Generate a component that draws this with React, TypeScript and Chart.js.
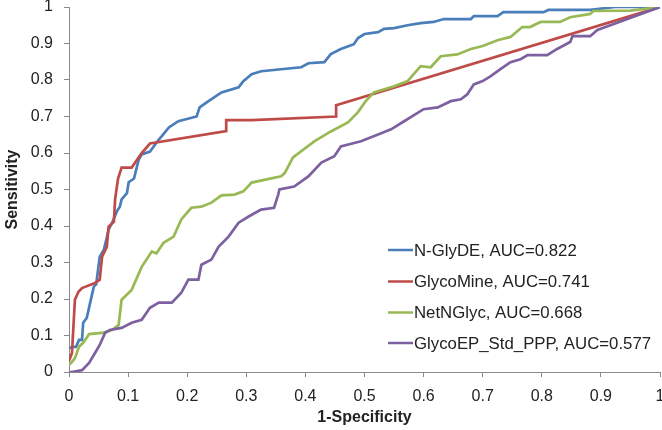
import React, { useEffect, useRef } from "react";
import { Chart, registerables } from "chart.js";

Chart.register(...registerables);

const seriesNames = [
  "N-GlyDE, AUC=0.822",
  "GlycoMine, AUC=0.741",
  "NetNGlyc, AUC=0.668",
  "GlycoEP_Std_PPP, AUC=0.577",
];
const seriesColors = ["#4A7EBB", "#BE4B48", "#98B954", "#7D60A0"];

const glydeX = [0, 0.008, 0.012, 0.017, 0.022, 0.024, 0.03, 0.035, 0.042, 0.046, 0.052, 0.059, 0.067, 0.073, 0.081, 0.086, 0.089, 0.098, 0.101, 0.11, 0.118, 0.123, 0.137, 0.152, 0.157, 0.169, 0.185, 0.216, 0.221, 0.236, 0.258, 0.287, 0.295, 0.309, 0.325, 0.393, 0.405, 0.432, 0.443, 0.46, 0.482, 0.489, 0.5, 0.523, 0.533, 0.55, 0.573, 0.595, 0.617, 0.634, 0.68, 0.685, 0.725, 0.735, 0.803, 0.811, 0.882, 0.924, 1];
const glydeY = [0.065, 0.069, 0.069, 0.088, 0.088, 0.135, 0.148, 0.184, 0.234, 0.24, 0.316, 0.335, 0.39, 0.409, 0.44, 0.453, 0.473, 0.49, 0.52, 0.53, 0.582, 0.596, 0.604, 0.637, 0.646, 0.67, 0.687, 0.7, 0.725, 0.742, 0.766, 0.78, 0.797, 0.816, 0.824, 0.835, 0.846, 0.849, 0.871, 0.885, 0.898, 0.915, 0.926, 0.931, 0.94, 0.942, 0.95, 0.956, 0.959, 0.967, 0.967, 0.975, 0.975, 0.986, 0.986, 0.992, 0.992, 1, 1];

const mineX = [0, 0.005, 0.01, 0.016, 0.022, 0.044, 0.052, 0.056, 0.064, 0.067, 0.076, 0.078, 0.083, 0.089, 0.106, 0.123, 0.137, 0.266, 0.266, 0.309, 0.452, 0.452, 1];
const mineY = [0.03, 0.052, 0.198, 0.22, 0.23, 0.244, 0.253, 0.316, 0.343, 0.398, 0.412, 0.473, 0.53, 0.56, 0.56, 0.6, 0.626, 0.66, 0.69, 0.69, 0.7, 0.731, 1];

const netX = [0, 0.005, 0.01, 0.017, 0.025, 0.034, 0.056, 0.073, 0.084, 0.089, 0.106, 0.123, 0.14, 0.148, 0.16, 0.177, 0.19, 0.207, 0.224, 0.241, 0.258, 0.28, 0.295, 0.309, 0.359, 0.365, 0.379, 0.415, 0.443, 0.472, 0.489, 0.502, 0.516, 0.55, 0.573, 0.595, 0.612, 0.629, 0.657, 0.68, 0.7, 0.725, 0.747, 0.767, 0.78, 0.798, 0.831, 0.848, 0.882, 0.887, 0.95, 1];
const netY = [0.02, 0.027, 0.038, 0.069, 0.082, 0.104, 0.107, 0.115, 0.129, 0.198, 0.225, 0.288, 0.33, 0.325, 0.354, 0.371, 0.418, 0.45, 0.453, 0.464, 0.484, 0.486, 0.495, 0.519, 0.536, 0.545, 0.588, 0.632, 0.659, 0.684, 0.712, 0.742, 0.766, 0.783, 0.797, 0.838, 0.835, 0.865, 0.87, 0.885, 0.893, 0.909, 0.918, 0.945, 0.945, 0.959, 0.959, 0.972, 0.981, 0.989, 0.99, 1];

const epX = [0, 0.005, 0.022, 0.034, 0.044, 0.052, 0.061, 0.069, 0.089, 0.106, 0.123, 0.137, 0.152, 0.174, 0.19, 0.202, 0.219, 0.224, 0.241, 0.253, 0.27, 0.287, 0.304, 0.325, 0.347, 0.354, 0.356, 0.381, 0.405, 0.427, 0.449, 0.46, 0.494, 0.523, 0.545, 0.567, 0.6, 0.624, 0.646, 0.663, 0.674, 0.685, 0.7, 0.713, 0.73, 0.747, 0.764, 0.776, 0.809, 0.826, 0.848, 0.852, 0.882, 0.894, 0.916, 1];
const epY = [0, 0, 0.005, 0.025, 0.052, 0.074, 0.107, 0.115, 0.121, 0.135, 0.143, 0.176, 0.19, 0.19, 0.217, 0.253, 0.253, 0.294, 0.308, 0.343, 0.371, 0.409, 0.426, 0.445, 0.45, 0.486, 0.5, 0.508, 0.536, 0.574, 0.591, 0.618, 0.632, 0.651, 0.665, 0.687, 0.72, 0.725, 0.742, 0.747, 0.761, 0.788, 0.797, 0.81, 0.83, 0.849, 0.857, 0.868, 0.868, 0.885, 0.904, 0.92, 0.92, 0.937, 0.95, 1];

const seriesX = [glydeX, mineX, netX, epX];
const seriesY = [glydeY, mineY, netY, epY];

const FONT = '"Liberation Sans", Arial, sans-serif';

const legendPlugin = {
  id: "insideLegend",
  afterDraw(chart: any) {
    const ctx = chart.ctx;
    ctx.save();
    const rows = [250, 281.5, 312.5, 343];
    ctx.font = `16.8px ${FONT}`;
    ctx.textBaseline = "middle";
    ctx.textAlign = "left";
    seriesNames.forEach((name, i) => {
      ctx.strokeStyle = seriesColors[i];
      ctx.lineWidth = 2.5;
      ctx.beginPath();
      ctx.moveTo(388, rows[i]);
      ctx.lineTo(413, rows[i]);
      ctx.stroke();
      ctx.fillStyle = "#222";
      ctx.fillText(name, 414, rows[i] + 1);
    });
    ctx.restore();
  },
};

export default function App() {
  const ref = useRef<HTMLCanvasElement>(null);
  useEffect(() => {
    document.body.style.margin = "0";
    const datasets = seriesNames.map((name, i) => ({
      label: name,
      data: seriesX[i].map((x, j) => ({ x, y: seriesY[i][j] })),
      borderColor: seriesColors[i],
      backgroundColor: seriesColors[i],
      borderWidth: 2.7,
      pointRadius: 0,
      tension: 0,
      fill: false,
      order: 3 - i,
    }));
    const axisColor = "#8A8A8A";
    const chart = new Chart(ref.current!, {
      type: "line",
      data: { datasets },
      options: {
        animation: false,
        responsive: false,
        layout: { padding: { left: 0, top: 7, right: 2, bottom: 0 } },
        plugins: { legend: { display: false }, tooltip: { enabled: false } },
        scales: {
          x: {
            type: "linear",
            min: 0,
            max: 1,
            ticks: {
              stepSize: 0.1,
              color: "#222",
              font: { size: 16, family: FONT },
              padding: 10,
              maxRotation: 0,
              callback: (v: any) => String(Number(Number(v).toFixed(1))),
            },
            grid: { drawOnChartArea: false, drawTicks: true, tickLength: 5, color: axisColor, lineWidth: 1 },
            border: { display: true, color: axisColor, width: 1 },
            title: {
              display: true,
              text: "1-Specificity",
              color: "#222",
              font: { size: 16, weight: "bold", family: FONT },
              padding: { top: 0, bottom: 3 },
            },
            afterFit: (s: any) => {
              s.height = 58;
              s.paddingLeft = 0;
              s.paddingRight = 0;
            },
          },
          y: {
            type: "linear",
            min: 0,
            max: 1,
            ticks: {
              stepSize: 0.1,
              color: "#222",
              font: { size: 16, family: FONT },
              padding: 11,
              callback: (v: any) => String(Number(Number(v).toFixed(1))),
            },
            grid: { drawOnChartArea: false, drawTicks: true, tickLength: 5, color: axisColor, lineWidth: 1 },
            border: { display: true, color: axisColor, width: 1 },
            title: {
              display: true,
              text: "Sensitivity",
              color: "#222",
              font: { size: 16, weight: "bold", family: FONT },
              padding: { top: 3, bottom: 0 },
            },
            afterFit: (s: any) => {
              s.width = 69;
              s.paddingTop = 0;
              s.paddingBottom = 0;
            },
          },
        },
      },
      plugins: [legendPlugin],
    });
    return () => chart.destroy();
  }, []);
  return (
    <div style={{ width: 662, height: 430, background: "#fff" }}>
      <canvas ref={ref} width={662} height={430} style={{ display: "block" }} />
    </div>
  );
}
